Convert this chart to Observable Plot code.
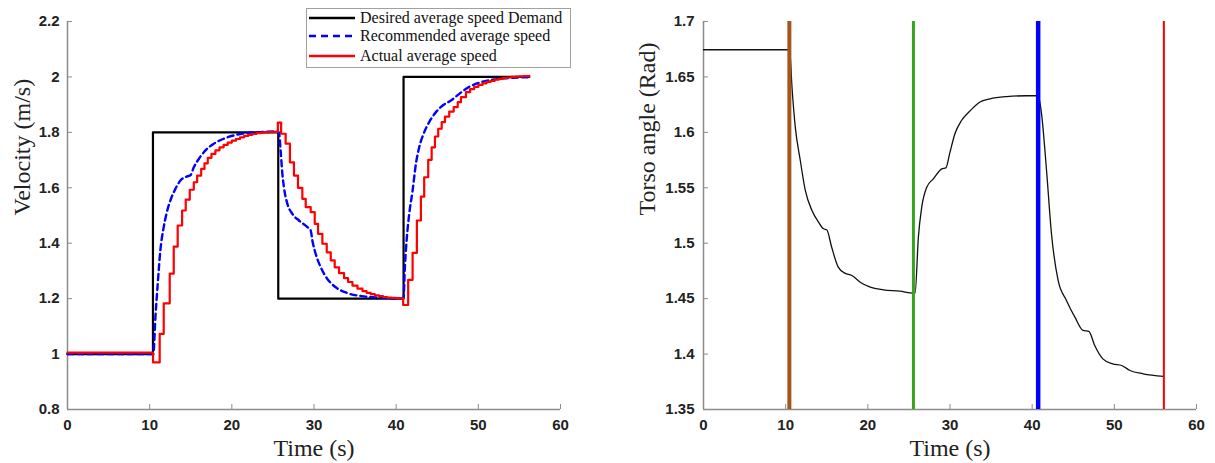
<!DOCTYPE html>
<html>
<head>
<meta charset="utf-8">
<script src="https://cdn.jsdelivr.net/npm/d3@7"></script>
<script src="https://cdn.jsdelivr.net/npm/@observablehq/plot@0.6"></script>
<style>
  body { margin: 0; background: #fff; }
  #wrap { position: relative; width: 1215px; height: 463px; display: flex; background: #fff; }
  #wrap svg { display: block; }
  #legend { position: absolute; left: 306px; top: 8px; width: 265px; height: 60px; box-sizing: border-box;
            border: 1px solid #a0a0a0; background: #fff; font-family: "Liberation Serif", "Times New Roman", serif;
            font-size: 16px; color: #111; }
  #legend .row { position: absolute; left: 0; height: 20px; display: flex; align-items: center; white-space: nowrap; }
  #legend svg { margin-left: 2px; margin-right: 5px; }
</style>
</head>
<body>
<div id="wrap"><div id="legend"></div></div>
<script>
// ---------------- data: left panel (velocity) ----------------
const desiredT = [0, 10.4, 25.65, 40.9, 56.2];
const desiredV = [1.0, 1.8, 1.2, 2.0, 2.0];

const recT = [0, 10.45, 10.7, 10.98, 11.3, 11.71, 12.04, 12.52, 13.13, 13.74,
  14.56, 14.96, 15.37, 15.98, 16.79, 17.8, 19.02, 20.24, 21.88, 23.5,
  25.33, 25.73, 25.94, 26.15, 26.34, 26.76, 27.37, 28.17, 29.2, 29.6,
  29.8, 30.2, 30.82, 31.63, 32.65, 34.07, 36.1, 38.54, 40.57, 40.9,
  41.06, 41.3, 41.59, 42.0, 42.4, 42.8, 43.34, 44.02, 44.84, 45.66,
  46.67, 47.68, 48.7, 50.33, 52.37, 54.2, 56.02];
const recV = [1.0, 1.0, 1.133, 1.253, 1.374, 1.458, 1.506, 1.554, 1.596, 1.626,
  1.641, 1.645, 1.674, 1.704, 1.735, 1.759, 1.777, 1.789, 1.798, 1.801,
  1.803, 1.8, 1.734, 1.65, 1.602, 1.542, 1.506, 1.482, 1.458, 1.446,
  1.41, 1.362, 1.313, 1.271, 1.241, 1.22, 1.208, 1.203, 1.2, 1.205,
  1.313, 1.421, 1.506, 1.59, 1.686, 1.746, 1.795, 1.837, 1.873, 1.897,
  1.915, 1.939, 1.961, 1.981, 1.993, 1.997, 1.999];

const actualT = [0, 10.41, 11.22, 11.71, 12.44, 12.93, 13.41, 13.95, 14.39, 14.88,
  15.37, 15.78, 16.27, 16.67, 17.07, 17.52, 18.0, 18.5, 19.0, 19.5,
  20.0, 20.5, 21.0, 21.5, 22.0, 22.5, 23.0, 23.5, 24.0, 24.5,
  25.0, 25.6, 26.0, 26.55, 27.07, 27.56, 28.05, 28.58, 28.99, 29.6,
  30.09, 30.49, 31.02, 31.55, 32.04, 32.52, 33.05, 33.66, 34.15, 34.68,
  35.29, 35.9, 36.4, 36.9, 37.4, 37.9, 38.4, 38.9, 39.4, 39.9,
  40.4, 40.85, 41.46, 42.0, 42.52, 43.01, 43.41, 43.9, 44.32, 44.72,
  45.12, 45.54, 45.94, 46.46, 47.0, 47.49, 47.89, 48.5, 49.0, 49.5,
  50.0, 50.5, 51.0, 51.5, 52.0, 52.5, 53.0, 53.5, 54.0, 54.5,
  55.0, 55.5, 56.2];
const actualV = [1.005, 0.97, 1.073, 1.183, 1.29, 1.388, 1.464, 1.518, 1.557, 1.593,
  1.62, 1.644, 1.668, 1.688, 1.708, 1.722, 1.735, 1.746, 1.755, 1.763,
  1.770, 1.776, 1.782, 1.787, 1.791, 1.794, 1.797, 1.799, 1.800, 1.801,
  1.802, 1.835, 1.795, 1.759, 1.692, 1.644, 1.6, 1.56, 1.53, 1.512,
  1.47, 1.434, 1.398, 1.367, 1.338, 1.313, 1.292, 1.274, 1.26, 1.247,
  1.236, 1.227, 1.221, 1.216, 1.212, 1.209, 1.206, 1.204, 1.203, 1.202,
  1.201, 1.177, 1.268, 1.365, 1.482, 1.568, 1.638, 1.701, 1.746, 1.785,
  1.813, 1.837, 1.857, 1.875, 1.891, 1.909, 1.927, 1.945, 1.956, 1.964,
  1.971, 1.977, 1.982, 1.986, 1.99, 1.993, 1.996, 1.998, 2.0, 2.001,
  2.002, 2.003, 2.004];

const seriesNames = ["Desired average speed Demand", "Recommended average speed", "Actual average speed"];
const velXTicks = [0, 10, 20, 30, 40, 50, 60];
const velYTicks = [0.8, 1, 1.2, 1.4, 1.6, 1.8, 2, 2.2];

// ---------------- data: right panel (torso angle) ----------------
const torsoT = [0, 10.48, 10.77, 11.17, 11.78, 12.39, 13.2, 14.0, 14.6, 15.0,
  15.6, 16.4, 17.2, 18.06, 19.07, 20.3, 21.9, 23.9, 25.55, 25.75,
  26.15, 26.56, 27.17, 27.97, 29.0, 29.5, 30.0, 30.6, 31.4, 32.4,
  33.6, 34.86, 36.9, 39.3, 40.73, 41.14, 41.75, 42.35, 43.16, 44.17,
  45.2, 46.2, 46.9, 47.6, 48.6, 49.8, 50.9, 51.9, 53.5, 56.0];
const torsoV = [1.6745, 1.6745, 1.6407, 1.6047, 1.5746, 1.5476, 1.5295, 1.519, 1.513, 1.5121,
  1.4964, 1.4784, 1.473, 1.4709, 1.4648, 1.4603, 1.458, 1.4567, 1.4549, 1.4549,
  1.5054, 1.5325, 1.5505, 1.5581, 1.5671, 1.568, 1.5821, 1.5987, 1.6107, 1.6191,
  1.6272, 1.6303, 1.6323, 1.633, 1.633, 1.6167, 1.5656, 1.5085, 1.4664, 1.4484,
  1.4333, 1.4213, 1.4204, 1.408, 1.3957, 1.3912, 1.3897, 1.3852, 1.3822, 1.3798];
const eventTimes = [10.45, 25.55, 40.73, 56.03];
const torsoXTicks = [0, 10, 20, 30, 40, 50, 60];
const torsoYTicks = [1.35, 1.4, 1.45, 1.5, 1.55, 1.6, 1.65, 1.7];

// ---------------- styles ----------------
const axisColor = "#8c8c8c";
const tickFont = {fontSize: 15, fontWeight: "bold", fontFamily: "Liberation Sans, Arial, sans-serif", fill: "#222"};
const labelFont = {fontSize: 24, fontFamily: "Liberation Serif, Times New Roman, serif", fill: "#222"};
const seriesColors = ["#000000", "#0000ff", "#ff0000"];
const eventColors = ["#a5541b", "#34a51c", "#0000ff", "#ff0000"];
const eventWidths = [4, 3, 4.5, 2];

const H = 463, MT = 21, MB = 54;
const frameH = H - MT - MB;

const toRows = (T, V) => T.map((t, i) => ({t, v: V[i]}));

// ---------------- left chart ----------------
const LW = 600, LML = 67, LMR = 40;
const leftFrameW = LW - LML - LMR;
const left = Plot.plot({
  width: LW, height: H, marginLeft: LML, marginRight: LMR, marginTop: MT, marginBottom: MB,
  x: {domain: [0, 60]},
  y: {domain: [0.8, 2.2]},
  style: {background: "white", overflow: "visible"},
  marks: [
    Plot.ruleY([0.8], {stroke: axisColor, strokeWidth: 1.5}),
    Plot.ruleX([0], {stroke: axisColor, strokeWidth: 1.5}),
    Plot.ruleX(velXTicks, {x: d => d, stroke: axisColor, strokeWidth: 1, insetTop: frameH - 5}),
    Plot.ruleY(velYTicks, {y: d => d, stroke: axisColor, strokeWidth: 1, insetRight: leftFrameW - 5}),
    Plot.axisX(velXTicks, {tickSize: 0, tickPadding: 10, tickFormat: d => String(d), label: null, ...tickFont}),
    Plot.axisY(velYTicks, {tickSize: 0, tickPadding: 8, tickFormat: d => String(d), label: null, ...tickFont}),
    Plot.text(["Time (s)"], {frameAnchor: "bottom", lineAnchor: "middle", dy: 39, ...labelFont}),
    Plot.text(["Velocity (m/s)"], {frameAnchor: "left", lineAnchor: "middle", rotate: -90, dx: -45, ...labelFont}),
    Plot.line(toRows(desiredT, desiredV), {x: "t", y: "v", curve: "step-after", stroke: seriesColors[0], strokeWidth: 2.2}),
    Plot.line(toRows(recT, recV), {x: "t", y: "v", curve: "monotone-x", stroke: seriesColors[1], strokeWidth: 2.4, strokeDasharray: "6,4"}),
    Plot.line(toRows(actualT, actualV), {x: "t", y: "v", curve: "step-after", stroke: seriesColors[2], strokeWidth: 2.2})
  ]
});

// ---------------- right chart ----------------
const RW = 615, RML = 103, RMR = 19;
const rightFrameW = RW - RML - RMR;
const right = Plot.plot({
  width: RW, height: H, marginLeft: RML, marginRight: RMR, marginTop: MT, marginBottom: MB,
  x: {domain: [0, 60]},
  y: {domain: [1.35, 1.7]},
  style: {background: "white", overflow: "visible"},
  marks: [
    Plot.ruleY([1.35], {stroke: axisColor, strokeWidth: 1.5}),
    Plot.ruleX([0], {stroke: axisColor, strokeWidth: 1.5}),
    Plot.ruleX(torsoXTicks, {x: d => d, stroke: axisColor, strokeWidth: 1, insetTop: frameH - 5}),
    Plot.ruleY(torsoYTicks, {y: d => d, stroke: axisColor, strokeWidth: 1, insetRight: rightFrameW - 5}),
    Plot.axisX(torsoXTicks, {tickSize: 0, tickPadding: 10, tickFormat: d => String(d), label: null, ...tickFont}),
    Plot.axisY(torsoYTicks, {tickSize: 0, tickPadding: 9, tickFormat: d => String(d), label: null, ...tickFont}),
    Plot.text(["Time (s)"], {frameAnchor: "bottom", lineAnchor: "middle", dy: 39, ...labelFont}),
    Plot.text(["Torso angle (Rad)"], {frameAnchor: "left", lineAnchor: "middle", rotate: -90, dx: -56, ...labelFont}),
    Plot.line(toRows(torsoT, torsoV), {x: "t", y: "v", curve: "monotone-x", stroke: "#111", strokeWidth: 1.3}),
    ...eventTimes.map((t, i) => Plot.ruleX([t], {stroke: eventColors[i], strokeWidth: eventWidths[i]}))
  ]
});

const wrap = document.getElementById("wrap");
wrap.insertBefore(right, wrap.firstChild);
wrap.insertBefore(left, right);

// ---------------- legend ----------------
const legend = document.getElementById("legend");
const rowTops = [-1, 17, 37];
seriesNames.forEach((name, i) => {
  const row = document.createElement("div");
  row.className = "row";
  row.style.top = rowTops[i] + "px";
  const sw = d3.create("svg").attr("width", 46).attr("height", 20);
  sw.append("line").attr("x1", 0).attr("x2", 46).attr("y1", 10).attr("y2", 10)
    .attr("stroke", seriesColors[i]).attr("stroke-width", 2.5)
    .attr("stroke-dasharray", i === 1 ? "7,5" : null);
  row.appendChild(sw.node());
  const span = document.createElement("span");
  span.textContent = name;
  row.appendChild(span);
  legend.appendChild(row);
});
</script>
</body>
</html>
